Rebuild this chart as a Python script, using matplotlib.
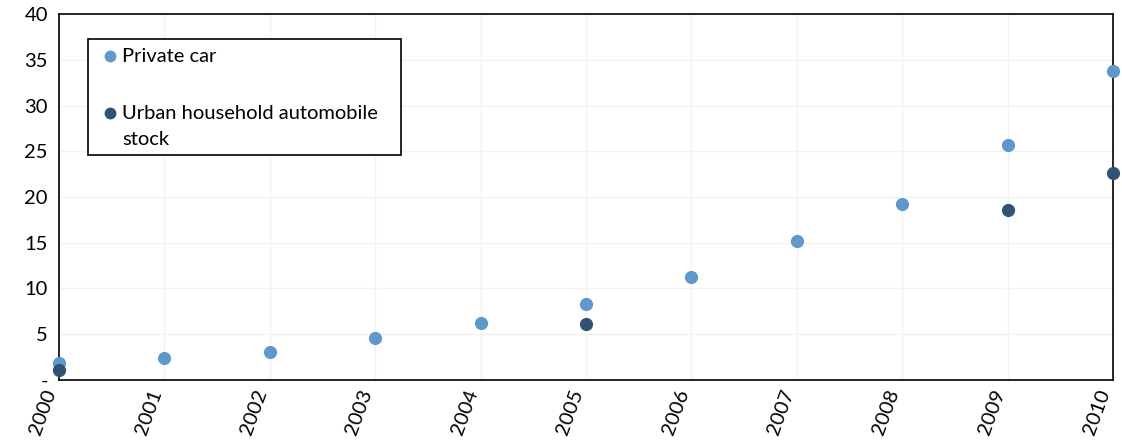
import matplotlib
matplotlib.use('Agg')
import matplotlib.pyplot as plt
from matplotlib.patches import Rectangle
from matplotlib.lines import Line2D

plt.rcParams['font.family'] = ['Lato', 'DejaVu Sans']

# Data
years = [2000, 2001, 2002, 2003, 2004, 2005, 2006, 2007, 2008, 2009, 2010]
private_car = [1.9, 2.4, 3.1, 4.6, 6.2, 8.3, 11.3, 15.2, 19.2, 25.7, 33.8]
urban_years = [2000, 2005, 2009, 2010]
urban_stock = [1.1, 6.1, 18.6, 22.6]

y_ticks = [0, 5, 10, 15, 20, 25, 30, 35, 40]
y_labels = ['-', '5', '10', '15', '20', '25', '30', '35', '40']

LIGHT = '#5F98CC'
DARK = '#2F5275'
GRID = '#F2F2F2'
FS = 14.5

fig = plt.figure(figsize=(11.22, 4.46), dpi=100)
ax = fig.add_axes([0.0526, 0.148, 0.9394, 0.8206])

ax.scatter(years, private_car, s=90, color=LIGHT, zorder=3, clip_on=False, linewidths=0)
ax.scatter(urban_years, urban_stock, s=90, color=DARK, zorder=4, clip_on=False, linewidths=0)

ax.set_xlim(2000, 2010)
ax.set_ylim(0, 40)
ax.set_xticks(years)
ax.set_xticklabels([str(y) for y in years], rotation=70, ha='right', fontsize=FS)
ax.set_yticks(y_ticks)
ax.set_yticklabels(y_labels, fontsize=FS)
ax.tick_params(length=0, pad=8)
ax.tick_params(axis='x', pad=5)
ax.grid(True, color=GRID, linewidth=1)
ax.set_axisbelow(True)
for sp in ax.spines.values():
    sp.set_color('black')
    sp.set_linewidth(1.2)

# Legend box drawn by hand so the marker sits on the first text line
ax.add_patch(Rectangle((0.0275, 0.6148), 0.297, 0.3169, transform=ax.transAxes,
                       facecolor='white', edgecolor='black', linewidth=1.2, zorder=5))
ax.add_line(Line2D([0.0484], [0.885], transform=ax.transAxes, marker='o',
                   markersize=7.5, color=LIGHT, linestyle='none', zorder=6))
ax.add_line(Line2D([0.0484], [0.7295], transform=ax.transAxes, marker='o',
                   markersize=7.5, color=DARK, linestyle='none', zorder=6))
ax.text(0.0598, 0.885, 'Private car', transform=ax.transAxes, fontsize=FS,
        va='center', ha='left', zorder=6)
ax.text(0.0598, 0.7295, 'Urban household automobile', transform=ax.transAxes,
        fontsize=FS, va='center', ha='left', zorder=6)
ax.text(0.0598, 0.658, 'stock', transform=ax.transAxes, fontsize=FS,
        va='center', ha='left', zorder=6)

fig.savefig('out.png', dpi=100, facecolor='white')
